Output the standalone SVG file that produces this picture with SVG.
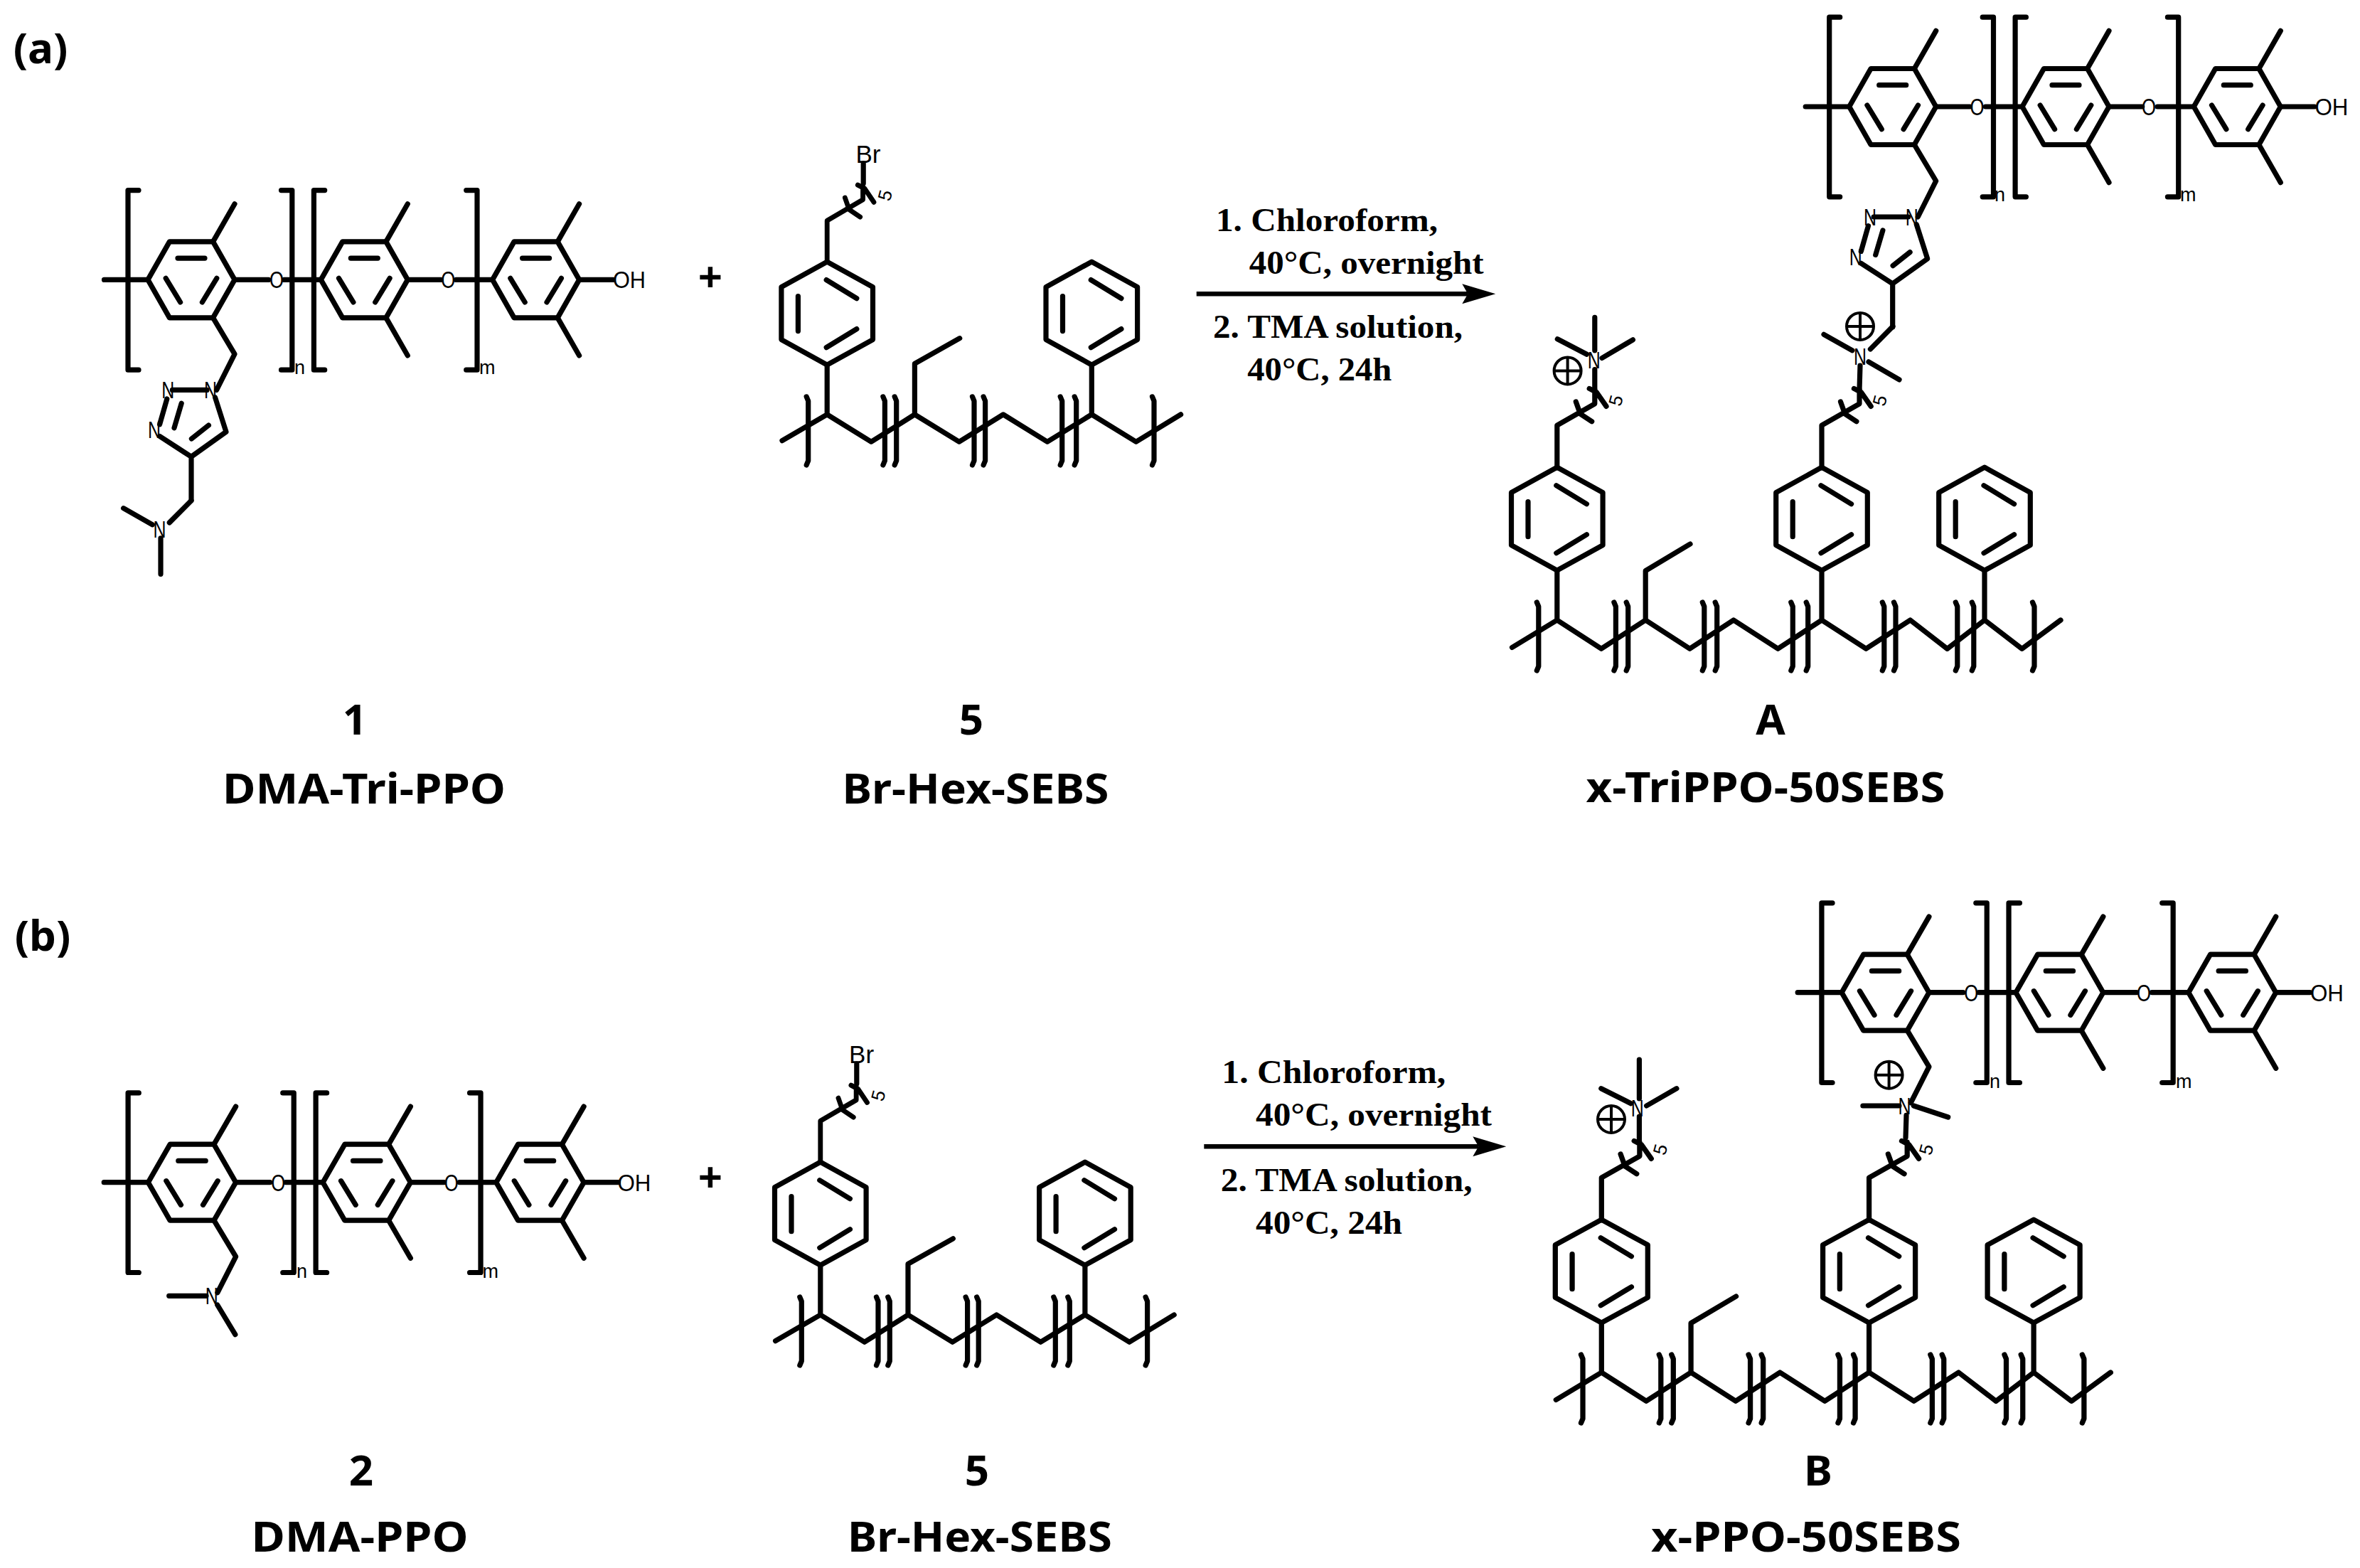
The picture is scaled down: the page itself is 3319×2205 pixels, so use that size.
<svg xmlns="http://www.w3.org/2000/svg" width="3319" height="2205" viewBox="0 0 3319 2205">
<style>
.b{fill:none;stroke:#000;stroke-width:7.2;stroke-linecap:round;stroke-linejoin:round}
.t{fill:none;stroke:#000;stroke-width:4}
.a{font-family:"Liberation Sans",Arial,sans-serif;fill:#000;font-size:33px;text-anchor:middle}
.s{font-family:"Liberation Sans",Arial,sans-serif;fill:#000;font-size:27px}
.r{font-family:"Liberation Serif","Times New Roman",serif;font-weight:700;font-size:46px;fill:#000}
.l{font-family:"Noto Sans","Open Sans",sans-serif;font-weight:700;font-size:60px;fill:#000;text-anchor:middle}
.w{stroke:#000;stroke-width:6.5;fill:none;stroke-linecap:butt}
</style>
<defs>
<marker id="ah" markerUnits="userSpaceOnUse" markerWidth="48" markerHeight="30" refX="8" refY="15" orient="auto"><path d="M0,1 L47,15 L0,29 L8,15 Z" fill="#000"/></marker>
<g id="hex"><path class="b" d="M-61,0 L-30.6,-53.5 H30.6 L61,0 L30.6,53.5 H-30.6 Z M-19,-30.3 H19 M-35.8,-2 L-15.4,31.6 M35.8,-2 L15.4,31.6"/></g>
<g id="pr"><path class="b" d="M0,-72.5 L64.3,-37 V37 L0,72.5 L-64.3,37 V-37 Z M-40.8,-24 V25 M-1,-47 L41.6,-21 M41.6,22 L-1,48"/></g>
<path id="bar" class="b" d="M-2.5,-25 L0,-19 V65 L-2.5,71"/>
<path id="arm" class="b" d="M0,0 V-59.7 L53,-90 V-109.6 M26.5,-92.8 L32.6,-75.8 L48.9,-65 M45.4,-111.4 L55.6,-106.1 L69.2,-86.4"/>
<g id="plus"><circle class="t" r="19"/><path class="t" d="M-19,0 H19 M0,-19 V19"/></g>
<g id="ppo">
<use href="#hex"/><use href="#hex" x="243.3"/><use href="#hex" x="484.6"/>
<path class="b" d="M-122.5,0 H-61 M61,0 H108.6 M130.6,0 H182.3 M304.3,0 H351 M372.4,0 H423.6 M545.6,0 H593.3 M30.6,-53.5 L61,-106.6 M273.9,-53.5 L304.3,-106.6 M273.9,53.5 L304.3,106.6 M515.2,-53.5 L545.6,-106.6 M515.2,53.5 L545.6,106.6 M30.6,53.5 L61,104.5 L35.6,155 M-74,-125.8 H-89 V126.8 H-74 M126.5,-125.8 H141.8 V126.8 H126.5 M187.7,-125.8 H172.4 V126.8 H187.7 M386.7,-125.8 H402 V126.8 H386.7"/>
</g>
<path id="tria" class="b" d="M-26.6,155 H22 M33.6,165.6 L49,213.9 L0,248.9 L-44.4,220.2 M-34.2,167.6 L-44.4,203.4 M-13.8,173.9 L-24,208.4 M24.4,204.6 L0.4,223.6 M0,248.9 V310"/>
<g id="seb">
<use href="#pr" y="-142.3"/><use href="#pr" x="372.1" y="-142.3"/>
<path class="b" d="M-63.2,36.7 L0,0 L62,38.3 L123.2,0 L185.7,38.3 L247.7,0 L309.7,38.3 L372.1,0 L434.5,38.3 L497.4,0 M0,0 V-70 M372.1,0 V-70 M123.2,0 V-71.6 L186.5,-107.2"/>
<use href="#bar" x="-26.5"/><use href="#bar" x="81.2"/><use href="#bar" x="97.5"/><use href="#bar" x="206.8"/><use href="#bar" x="222.4"/><use href="#bar" x="330.5"/><use href="#bar" x="350.5"/><use href="#bar" x="459.8"/>
<use href="#arm" transform="translate(0,-214.8) scale(.95,.97)"/>
<path class="b" d="M51,-324.9 V-353"/>
</g>
<g id="poly">
<use href="#pr" y="-142.3"/><use href="#pr" x="372.2" y="-142.3"/><use href="#pr" x="601.2" y="-142.3"/>
<path class="b" d="M-63.3,38.5 L0,0 L62.2,40.3 L124.4,0 L186.6,40.3 L248.2,0 L310.6,40.3 L372.2,0 L434.5,40.3 L496.7,0 L548.7,40.3 L601.2,0 L653.8,40.3 L708.2,0 M0,0 V-70 M372.2,0 V-70 M601.2,0 V-70 M124.4,0 V-69.3 L187.2,-107"/>
<use href="#bar" x="-26"/><use href="#bar" x="82.6"/><use href="#bar" x="99.9"/><use href="#bar" x="207"/><use href="#bar" x="224.9"/><use href="#bar" x="331.5"/><use href="#bar" x="352.9"/><use href="#bar" x="460"/><use href="#bar" x="476.2"/><use href="#bar" x="563"/><use href="#bar" x="586"/><use href="#bar" x="671.2"/>
<use href="#arm" y="-214.2"/><use href="#arm" x="372.2" y="-214.2"/>
</g>
</defs>
<rect width="3319" height="2205" fill="#fff"/>

<g id="panel-labels">
<text class="l" x="57" y="89">(a)</text>
<text class="l" x="60" y="1337">(b)</text>
<text class="l" x="999" y="411">+</text>
<text class="l" x="999" y="1677">+</text>
</g>

<g id="connectors">
<line class="w" x1="1682.7" y1="413.3" x2="2064.3" y2="413.3" marker-end="url(#ah)"/>
<line class="w" x1="1693.3" y1="1612.3" x2="2079.3" y2="1612.3" marker-end="url(#ah)"/>
</g>

<g id="node-1">
<use href="#ppo" transform="translate(269,393.4)"/>
<use href="#tria" transform="translate(269,393.4)"/>
<path class="b" d="M269,704 L238.3,734.9 M173.6,714.7 L214.4,737.8 M226,756.8 V807.3"/>
<text class="a" x="389" y="405" textLength="20" lengthAdjust="spacingAndGlyphs">O</text>
<text class="a" x="630.2" y="405" textLength="20" lengthAdjust="spacingAndGlyphs">O</text>
<text class="a" x="885" y="405" textLength="46" lengthAdjust="spacingAndGlyphs">OH</text>
<text class="s" x="414" y="526">n</text>
<text class="s" x="674" y="526">m</text>
<text class="a" x="236.3" y="560" textLength="18" lengthAdjust="spacingAndGlyphs">N</text>
<text class="a" x="296" y="560" textLength="18" lengthAdjust="spacingAndGlyphs">N</text>
<text class="a" x="217" y="616" textLength="18" lengthAdjust="spacingAndGlyphs">N</text>
<text class="a" x="224.6" y="755.5" textLength="18" lengthAdjust="spacingAndGlyphs">N</text>
<text class="l" x="499" y="1033">1</text>
<text class="l" x="512" y="1130" textLength="398" lengthAdjust="spacingAndGlyphs">DMA-Tri-PPO</text>
</g>

<g id="node-5a">
<use href="#seb" transform="translate(1163.2,582.9)"/>
<text class="a" x="1221" y="229" style="font-size:35px">Br</text>
<text class="s" transform="rotate(-75 1245.6 275)" x="1245.6" y="283" text-anchor="middle" style="font-size:26px">5</text>
<text class="l" x="1366" y="1033">5</text>
<text class="l" x="1372" y="1130" textLength="375" lengthAdjust="spacingAndGlyphs">Br-Hex-SEBS</text>
</g>

<g id="reaction-a">
<text class="r" x="1710" y="325" textLength="312" lengthAdjust="spacingAndGlyphs">1. Chloroform,</text>
<text class="r" x="1756.7" y="385" textLength="330" lengthAdjust="spacingAndGlyphs">40°C, overnight</text>
<text class="r" x="1706" y="475" textLength="351" lengthAdjust="spacingAndGlyphs">2. TMA solution,</text>
<text class="r" x="1754.3" y="535" textLength="203" lengthAdjust="spacingAndGlyphs">40°C, 24h</text>
</g>

<g id="node-A">
<use href="#ppo" transform="translate(2661.7,150)"/>
<use href="#tria" transform="translate(2661.7,150)"/>
<text class="a" x="2780.5" y="162" textLength="20" lengthAdjust="spacingAndGlyphs">O</text>
<text class="a" x="3021.9" y="162" textLength="20" lengthAdjust="spacingAndGlyphs">O</text>
<text class="a" x="3279" y="162" textLength="47" lengthAdjust="spacingAndGlyphs">OH</text>
<text class="s" x="2805" y="283">n</text>
<text class="s" x="3066" y="283">m</text>
<text class="a" x="2630" y="317" textLength="18" lengthAdjust="spacingAndGlyphs">N</text>
<text class="a" x="2688.7" y="317" textLength="18" lengthAdjust="spacingAndGlyphs">N</text>
<text class="a" x="2609.7" y="373" textLength="18" lengthAdjust="spacingAndGlyphs">N</text>
<use href="#poly" transform="translate(2189.8,872)"/>
<path class="b" d="M2242.8,519.6 V548.2 M2242.8,446.4 V492.8 M2190.3,476.8 L2231.6,498.2 M2296.4,477.8 L2253,503.5"/>
<path class="b" d="M2616,514.2 L2615,548.2 M2565,470.3 L2605,492.8 M2671,533.9 L2628,508.9 M2630.4,491 L2662,459"/>
<text class="a" x="2241.8" y="517.5" textLength="18" lengthAdjust="spacingAndGlyphs">N</text>
<text class="a" x="2616" y="513" textLength="18" lengthAdjust="spacingAndGlyphs">N</text>
<use href="#plus" x="2204.6" y="521.4"/>
<use href="#plus" x="2616" y="458.9"/>
<text class="s" transform="rotate(-75 2273.4 563.5)" x="2273.4" y="571.5" text-anchor="middle" style="font-size:26px">5</text>
<text class="s" transform="rotate(-75 2644.7 563.5)" x="2644.7" y="571.5" text-anchor="middle" style="font-size:26px">5</text>
<text class="l" x="2490" y="1033">A</text>
<text class="l" x="2483" y="1128" textLength="505" lengthAdjust="spacingAndGlyphs">x-TriPPO-50SEBS</text>
</g>

<g id="node-2">
<use href="#ppo" transform="translate(270,1662.7) scale(1.01,1)"/>
<path class="b" d="M237.7,1822.3 H290 M305.7,1835 L330.8,1876.7"/>
<text class="a" x="391.2" y="1674.5" textLength="20" lengthAdjust="spacingAndGlyphs">O</text>
<text class="a" x="634.8" y="1674.5" textLength="20" lengthAdjust="spacingAndGlyphs">O</text>
<text class="a" x="892" y="1674.5" textLength="47" lengthAdjust="spacingAndGlyphs">OH</text>
<text class="s" x="417" y="1796.7">n</text>
<text class="s" x="678.6" y="1796.7">m</text>
<text class="a" x="297.8" y="1833.5" textLength="18" lengthAdjust="spacingAndGlyphs">N</text>
<text class="l" x="508" y="2089">2</text>
<text class="l" x="506" y="2182" textLength="305" lengthAdjust="spacingAndGlyphs">DMA-PPO</text>
</g>

<g id="node-5b">
<use href="#seb" transform="translate(1153.8,1849)"/>
<text class="a" x="1211.6" y="1495" style="font-size:35px">Br</text>
<text class="s" transform="rotate(-75 1236.2 1541)" x="1236.2" y="1549" text-anchor="middle" style="font-size:26px">5</text>
<text class="l" x="1374" y="2089">5</text>
<text class="l" x="1378" y="2182" textLength="372" lengthAdjust="spacingAndGlyphs">Br-Hex-SEBS</text>
</g>

<g id="reaction-b">
<text class="r" x="1718.3" y="1523.3" textLength="315" lengthAdjust="spacingAndGlyphs">1. Chloroform,</text>
<text class="r" x="1766" y="1583.3" textLength="332" lengthAdjust="spacingAndGlyphs">40°C, overnight</text>
<text class="r" x="1716.7" y="1675" textLength="354" lengthAdjust="spacingAndGlyphs">2. TMA solution,</text>
<text class="r" x="1766" y="1735" textLength="206" lengthAdjust="spacingAndGlyphs">40°C, 24h</text>
</g>

<g id="node-B">
<use href="#ppo" transform="translate(2651.5,1395.7) scale(1.0066,1)"/>
<text class="a" x="2772.3" y="1407.5" textLength="20" lengthAdjust="spacingAndGlyphs">O</text>
<text class="a" x="3015" y="1407.5" textLength="20" lengthAdjust="spacingAndGlyphs">O</text>
<text class="a" x="3272.5" y="1407.5" textLength="47" lengthAdjust="spacingAndGlyphs">OH</text>
<text class="s" x="2798" y="1530">n</text>
<text class="s" x="3060" y="1530">m</text>
<use href="#poly" transform="translate(2252.3,1930) scale(1.011,1)"/>
<path class="b" d="M2619.9,1555 H2670.9 M2691.3,1555 L2739.7,1571 M2681,1568.3 L2680,1600"/>
<path class="b" d="M2305.4,1570 V1603.3 M2305.4,1490 V1545 M2251.8,1530.7 L2293.6,1551.7 M2357.9,1530.7 L2315.6,1555"/>
<text class="a" x="2678.5" y="1566.5" textLength="18" lengthAdjust="spacingAndGlyphs">N</text>
<text class="a" x="2302.8" y="1570" textLength="18" lengthAdjust="spacingAndGlyphs">N</text>
<use href="#plus" x="2656.6" y="1511.7"/>
<use href="#plus" x="2266" y="1574"/>
<text class="s" transform="rotate(-75 2336 1616.7)" x="2336" y="1624.7" text-anchor="middle" style="font-size:26px">5</text>
<text class="s" transform="rotate(-75 2710 1616.7)" x="2710" y="1624.7" text-anchor="middle" style="font-size:26px">5</text>
<text class="l" x="2557" y="2089">B</text>
<text class="l" x="2540" y="2182" textLength="436" lengthAdjust="spacingAndGlyphs">x-PPO-50SEBS</text>
</g>
</svg>
